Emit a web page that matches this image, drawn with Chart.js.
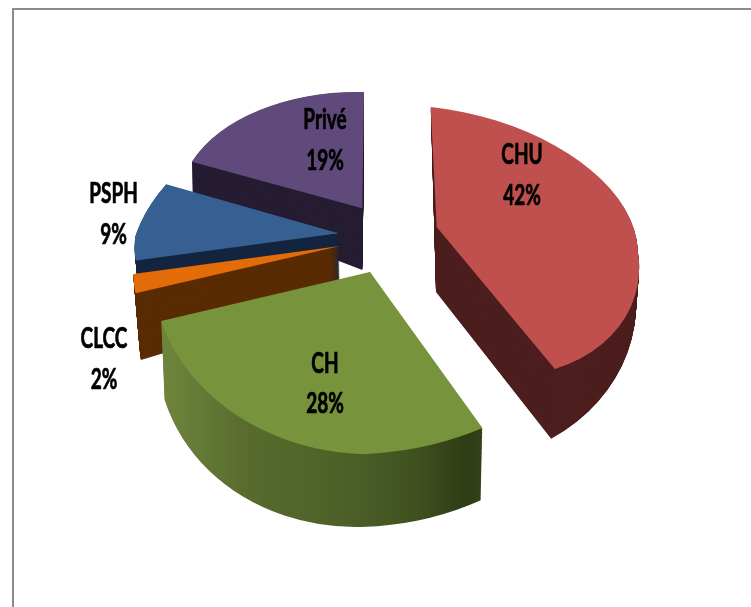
<!DOCTYPE html>
<html>
<head>
<meta charset="utf-8">
<style>
html,body{margin:0;padding:0;background:#fff;overflow:hidden}
#frame{position:absolute;left:12px;top:8px;right:0;bottom:0;border-top:2px solid #8c8c8c;border-left:2px solid #8c8c8c}
canvas{position:absolute;left:0;top:0}
</style>
<script src="https://cdn.jsdelivr.net/npm/chart.js@4/dist/chart.umd.min.js"></script>
</head>
<body>
<div id="frame"></div>
<canvas id="c" width="751" height="607"></canvas>
<script>
const categories = ["CHU", "CH", "CLCC", "PSPH", "Privé"];
const values = [42, 28, 2, 9, 19];
const faceColors = ["#c0504d", "#77933c", "#e36c09", "#366092", "#604a7b"];
const wallColors = ["#4d1f1f", "#465a22", "#5a2c04", "#14263f", "#261d33"];

// Look of the exploded 3D pie: where each slice's centre and radii land on the page.
const faceTip = [[436.7,227],[370,272],[340,246],[338.3,233.3],[362.3,208.3]];
const faceN = [[-6,-120],[0,-120],[0,-120],[45,-141],[1.7,-116.3]];
const faceE = [[201,22],[248,-7],[200,0],[200,0],[200,0]];
const faceS = [[24.4,150],[-8,182],[-35,157.8],[-17,130],[0,130]];
const faceW = [[-200,0],[-217,-7.6],[-203.7,-1.6],[-203,3],[-184,-4]];
const baseTip = [[436,292],[372,335],[340,300],[340,290],[362.3,270]];
const baseN = [[-1.6,-60],[0,-120],[0,-120],[45,-141],[1.7,-116]];
const baseE = [[199,-8],[244,-6],[200,0],[200,0],[200,0]];
const baseS = [[22,172],[-10,192],[-35,200],[-17,130],[0,130]];
const baseW = [[-200,0],[-215,5],[-198,-1.9],[-199,3],[-183,-24]];
const drawOrder = [4,3,2,1,0];
const labelPos = [[522,155,196],[325,364,404],[104,339,380],[113.5,194,235],[325,120,161]];
const labelFont = 'bold 28px Lato, "Liberation Sans", sans-serif';
const labelSqueeze = 0.68;
const labelWeight = 0.7;
const wallGradientIndex = 1;
const wallGradientStops = [[161,"#6f853c"],[250,"#586b2d"],[350,"#4c5f27"],[420,"#3f501f"],[465,"#2f3c15"],[483,"#334119"]];
const steps = 90;

const lerp = (p,q,t)=>[p[0]+(q[0]-p[0])*t, p[1]+(q[1]-p[1])*t];
function sliceAt(i,t){
  return {tip:lerp(faceTip[i],baseTip[i],t),N:lerp(faceN[i],baseN[i],t),E:lerp(faceE[i],baseE[i],t),
          S:lerp(faceS[i],baseS[i],t),W:lerp(faceW[i],baseW[i],t)};
}
const quads = [[1,-1,0],[1,1,90],[-1,1,180],[-1,-1,270]];

function paint(ctx,el,geo,fill,gradient){
  const orig = el.options, R = el.outerRadius, cx = el.x, cy = el.y;
  const s = (el.startAngle+Math.PI/2)*180/Math.PI, e = (el.endAngle+Math.PI/2)*180/Math.PI;
  quads.forEach(([su,sv,q0])=>{
    if(e<=q0 || s>=q0+90) return;
    const H = su>0?geo.E:geo.W, V = sv>0?geo.S:geo.N;
    const a=H[0]*su/R, b=H[1]*su/R, c=V[0]*sv/R, d=V[1]*sv/R;
    const tx=geo.tip[0]-a*cx-c*cy, ty=geo.tip[1]-b*cx-d*cy;
    ctx.save();
    ctx.setTransform(a,b,c,d,tx,ty);
    ctx.beginPath();
    const x0=su>0?cx-1.5:cx-2*R, y0=sv>0?cy-1.5:cy-2*R;
    ctx.rect(x0,y0,2*R+1.5,2*R+1.5);
    ctx.clip();
    let paintFill = fill;
    if(gradient){
      const n=a*a+c*c, X0=gradient[0][0], X1=gradient[gradient.length-1][0];
      const px=a*(X0-tx)/n, py=c*(X0-tx)/n, k=(X1-X0)/n;
      const g=ctx.createLinearGradient(px,py,px+a*k,py+c*k);
      gradient.forEach(([x,col])=>g.addColorStop((x-X0)/(X1-X0),col));
      paintFill=g;
    }
    el.options=Object.assign({},orig,{backgroundColor:paintFill,borderColor:paintFill,borderWidth:0});
    el.draw(ctx);
    el.options=orig;
    ctx.restore();
  });
}

const extrudedPie = {
  id:"extrudedPie",
  beforeDatasetDraw(chart,args){
    const ctx=chart.ctx, arcs=chart.getDatasetMeta(args.index).data;
    drawOrder.forEach(i=>{
      const grad = i===wallGradientIndex?wallGradientStops:null;
      for(let k=steps;k>=1;k--) paint(ctx,arcs[i],sliceAt(i,k/steps),wallColors[i],grad);
      paint(ctx,arcs[i],sliceAt(i,0),faceColors[i],null);
    });
    return false;
  },
  afterDatasetsDraw(chart){
    const ctx=chart.ctx;
    ctx.fillStyle="#000";
    ctx.strokeStyle="#000";
    ctx.lineWidth=labelWeight;
    ctx.lineJoin="round";
    ctx.font=labelFont;
    ctx.textAlign="center";
    ctx.textBaseline="middle";
    const put=(text,x,y)=>{
      ctx.save();
      ctx.translate(x,y);
      ctx.scale(labelSqueeze,1);
      ctx.fillText(text,0,0);
      ctx.strokeText(text,0,0);
      ctx.restore();
    };
    categories.forEach((name,i)=>{
      put(name,labelPos[i][0],labelPos[i][1]);
      put(values[i]+"%",labelPos[i][0],labelPos[i][2]);
    });
  }
};

new Chart(document.getElementById("c"),{
  type:"pie",
  data:{labels:categories,datasets:[{data:values,backgroundColor:faceColors,borderWidth:0}]},
  options:{responsive:false,animation:false,
    plugins:{legend:{display:false},tooltip:{enabled:false}},
    layout:{padding:0}},
  plugins:[extrudedPie]
});
</script>
</body>
</html>
